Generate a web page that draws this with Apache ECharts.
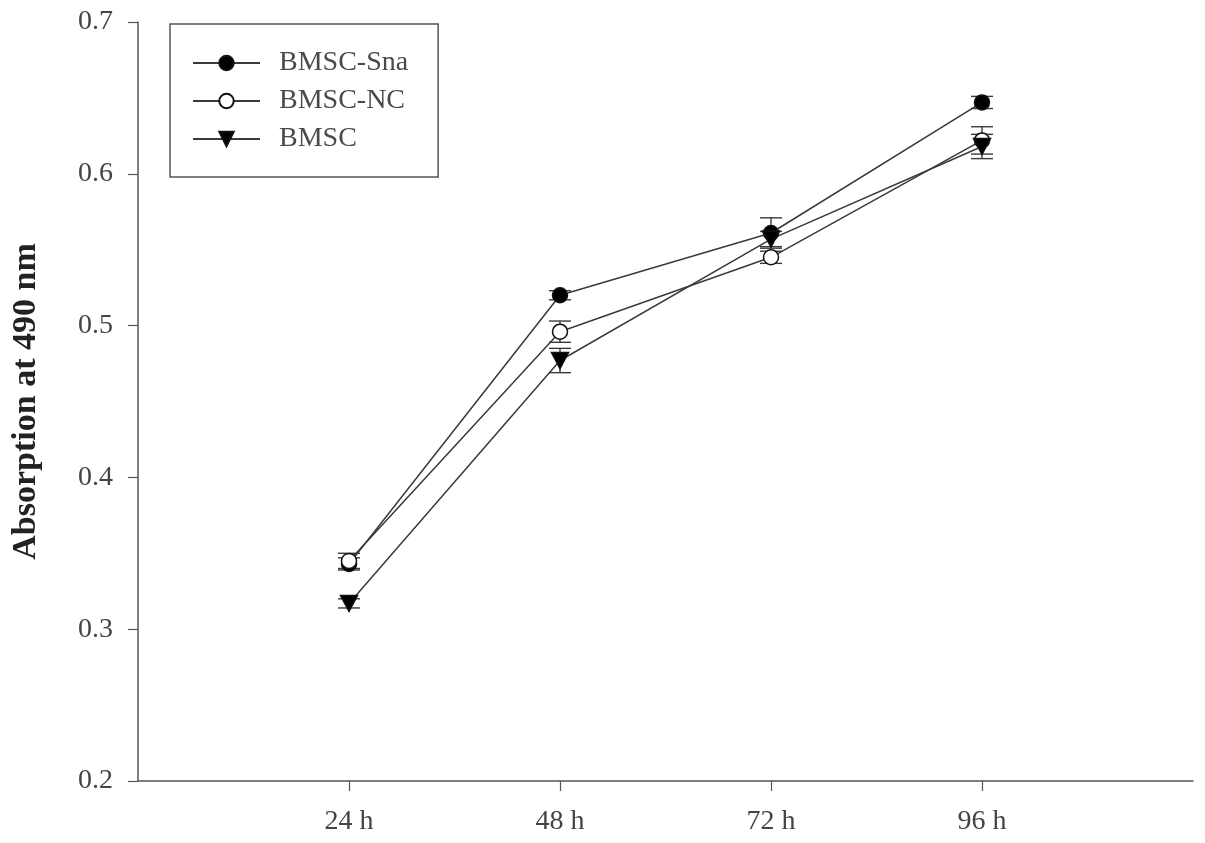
<!DOCTYPE html>
<html>
<head>
<meta charset="utf-8">
<script src="https://cdn.jsdelivr.net/npm/echarts@6/dist/echarts.min.js"></script>
<style>html,body{margin:0;padding:0;background:#fff;}#c{width:1205px;height:843px;}</style>
</head>
<body>
<div id="c"></div>
<script>
// Tick labels of the x axis (empty ends pad the axis to 0 h and 120 h)
var categories = ['', '24 h', '48 h', '72 h', '96 h', ''];
var timePoints = ['24 h', '48 h', '72 h', '96 h'];
var seriesNames = ['BMSC-Sna', 'BMSC-NC', 'BMSC'];
var snaValues = [0.343, 0.520, 0.561, 0.647];
var snaErrors = [0.004, 0.003, 0.010, 0.004];
var ncValues = [0.345, 0.496, 0.545, 0.622];
var ncErrors = [0.005, 0.007, 0.004, 0.009];
var bmscValues = [0.317, 0.477, 0.557, 0.618];
var bmscErrors = [0.003, 0.008, 0.005, 0.008];
var yTicks = [0.2, 0.3, 0.4, 0.5, 0.6, 0.7];

var FONT = '"Liberation Serif", "DejaVu Serif", serif';
var LINE = '#3a3a3a';

function toPoints(vals) {
  return vals.map(function (v, i) { return [categories.indexOf(timePoints[i]), v]; });
}
function toErr(vals, errs) {
  return vals.map(function (v, i) { return [categories.indexOf(timePoints[i]), v - errs[i], v + errs[i]]; });
}

function errorSeries(vals, errs, z) {
  return {
    type: 'custom',
    z: z,
    silent: true,
    data: toErr(vals, errs),
    renderItem: function (params, api) {
      var x = api.value(0);
      var lo = api.coord([x, api.value(1)]);
      var hi = api.coord([x, api.value(2)]);
      var hw = 11;
      var style = { stroke: LINE, lineWidth: 1.4 };
      return {
        type: 'group',
        children: [
          { type: 'line', shape: { x1: lo[0], y1: lo[1], x2: hi[0], y2: hi[1] }, style: style },
          { type: 'line', shape: { x1: lo[0] - hw, y1: lo[1], x2: lo[0] + hw, y2: lo[1] }, style: style },
          { type: 'line', shape: { x1: hi[0] - hw, y1: hi[1], x2: hi[0] + hw, y2: hi[1] }, style: style }
        ]
      };
    }
  };
}

function lineSeries(name, vals, symbol, size, fill, z) {
  return {
    name: name,
    type: 'line',
    z: z,
    data: toPoints(vals),
    symbol: symbol,
    symbolSize: size,
    showAllSymbol: true,
    lineStyle: { color: LINE, width: 1.5 },
    itemStyle: { color: fill, borderColor: '#111', borderWidth: 1.5 },
    emphasis: { disabled: true },
    animation: false
  };
}

var triPath = 'path://M0,0 L10,0 L5,10 Z';

var chart = echarts.init(document.getElementById('c'), null, { renderer: 'canvas' });
chart.setOption({
  animation: false,
  backgroundColor: '#fff',
  grid: { left: 138, right: 12, top: 22, bottom: 62, containLabel: false },
  legend: {
    left: 170, top: 24,
    orient: 'vertical',
    data: seriesNames,
    itemWidth: 67, itemHeight: 18,
    itemGap: 10,
    padding: [25, 30, 24, 22],
    borderColor: '#555', borderWidth: 1.5,
    textStyle: { fontFamily: FONT, fontSize: 28, lineHeight: 28, color: '#4a4a4a', padding: [0, 0, 0, 14] }
  },
  xAxis: {
    type: 'category',
    data: categories,
    boundaryGap: false,
    axisLine: { lineStyle: { color: '#555', width: 1.5 } },
    axisTick: { length: 10, interval: function (i) { return i > 0 && i < categories.length - 1; }, lineStyle: { color: '#555', width: 1.2 } },
    axisLabel: { interval: 0, margin: 27, fontFamily: FONT, fontSize: 28, color: '#444' },
    splitLine: { show: false }
  },
  yAxis: {
    type: 'value',
    min: yTicks[0], max: yTicks[yTicks.length - 1], interval: 0.1,
    name: 'Absorption at 490 nm',
    nameLocation: 'middle',
    nameGap: 95,
    nameTextStyle: { fontFamily: FONT, fontSize: 34, fontWeight: 'bold', color: '#222' },
    axisLine: { show: true, lineStyle: { color: '#555', width: 1.5 } },
    axisTick: { show: true, inside: false, length: 10, lineStyle: { color: '#555', width: 1.2 } },
    axisLabel: { margin: 25, fontFamily: FONT, fontSize: 28, color: '#444', formatter: function (v) { return v.toFixed(1); } },
    splitLine: { show: false }
  },
  series: [
    errorSeries(snaValues, snaErrors, 1),
    errorSeries(ncValues, ncErrors, 1),
    errorSeries(bmscValues, bmscErrors, 1),
    lineSeries(seriesNames[0], snaValues, 'circle', 15, '#000', 3),
    lineSeries(seriesNames[1], ncValues, 'circle', 15, '#fff', 3),
    lineSeries(seriesNames[2], bmscValues, triPath, [17, 16], '#000', 3)
  ]
});
</script>
</body>
</html>
